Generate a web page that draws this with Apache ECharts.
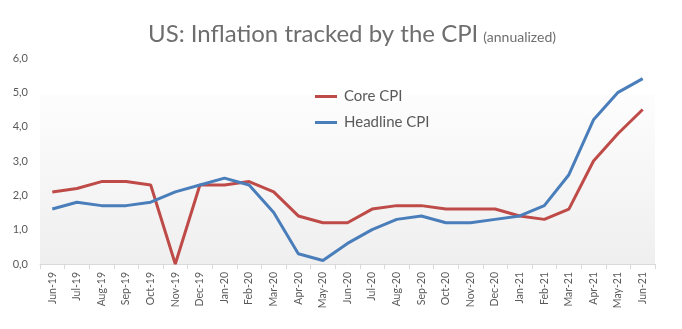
<!DOCTYPE html>
<html>
<head>
<meta charset="utf-8">
<script src="https://cdn.jsdelivr.net/npm/echarts@6/dist/echarts.min.js"></script>
<style>
  html, body { margin: 0; padding: 0; background: #ffffff; }
  #chart { width: 682px; height: 329px; }
</style>
</head>
<body>
<div id="chart"></div>
<script>
// Monthly CPI readings, annualized (%)
const months = [
  'Jun-19', 'Jul-19', 'Aug-19', 'Sep-19', 'Oct-19', 'Nov-19', 'Dec-19',
  'Jan-20', 'Feb-20', 'Mar-20', 'Apr-20', 'May-20', 'Jun-20', 'Jul-20',
  'Aug-20', 'Sep-20', 'Oct-20', 'Nov-20', 'Dec-20', 'Jan-21', 'Feb-21',
  'Mar-21', 'Apr-21', 'May-21', 'Jun-21'
];
const coreCpi = [
  2.1, 2.2, 2.4, 2.4, 2.3, 0.0, 2.3, 2.3, 2.4, 2.1, 1.4, 1.2, 1.2, 1.6,
  1.7, 1.7, 1.6, 1.6, 1.6, 1.4, 1.3, 1.6, 3.0, 3.8, 4.5
];
const headlineCpi = [
  1.6, 1.8, 1.7, 1.7, 1.8, 2.1, 2.3, 2.5, 2.3, 1.5, 0.3, 0.1, 0.6, 1.0,
  1.3, 1.4, 1.2, 1.2, 1.3, 1.4, 1.7, 2.6, 4.2, 5.0, 5.4
];
const yTicks = { min: 0, max: 6, step: 1 };

const FONT = 'Lato, "Open Sans", sans-serif';
const GREY = '#595959';

const chart = echarts.init(document.getElementById('chart'), null, { renderer: 'canvas' });

chart.setOption({
  animation: false,
  backgroundColor: '#ffffff',
  title: {
    left: 143,
    top: 17,
    text: '{main|US: Inflation tracked by the CPI} {sub|(annualized)}',
    textStyle: {
      fontWeight: 'normal',
      rich: {
        main: { fontFamily: FONT, fontSize: 24, fontWeight: 'normal', color: '#6e6e6e', verticalAlign: 'bottom' },
        sub: { fontFamily: FONT, fontSize: 14, fontWeight: 'normal', color: '#6e6e6e', verticalAlign: 'bottom', padding: [0, 0, 2, 0] }
      }
    }
  },
  legend: {
    orient: 'vertical',
    left: 310,
    top: 84,
    itemWidth: 22,
    itemHeight: 3,
    itemGap: 11,
    icon: 'rect',
    textStyle: { fontFamily: FONT, fontSize: 15, color: GREY, lineHeight: 14, padding: [0, 0, 0, 2] },
    data: ['Core CPI', 'Headline CPI']
  },
  grid: {
    left: 40,
    right: 27,
    top: 58,
    bottom: 65,
    show: true,
    borderWidth: 0,
    backgroundColor: {
      type: 'linear', x: 0, y: 0, x2: 0, y2: 1,
      colorStops: [
        { offset: 0, color: '#ffffff' },
        { offset: 0.18, color: '#ffffff' },
        { offset: 0.18, color: '#fdfdfd' },
        { offset: 1, color: '#efefef' }
      ]
    }
  },
  xAxis: {
    type: 'category',
    data: months,
    boundaryGap: true,
    axisLine: { lineStyle: { color: '#d9d9d9', width: 1 } },
    axisTick: { show: true, length: 5, lineStyle: { color: '#d9d9d9' } },
    axisLabel: {
      rotate: 90,
      interval: 0,
      margin: 8,
      fontFamily: FONT,
      fontSize: 10.5,
      color: GREY
    }
  },
  yAxis: {
    type: 'value',
    min: yTicks.min,
    max: yTicks.max,
    interval: yTicks.step,
    axisLine: { show: false },
    axisTick: { show: false },
    splitLine: { show: false },
    axisLabel: {
      margin: 12,
      fontFamily: FONT,
      fontSize: 11,
      color: GREY,
      formatter: v => v.toFixed(1).replace('.', ',')
    }
  },
  series: [
    {
      name: 'Core CPI',
      type: 'line',
      data: coreCpi,
      showSymbol: false,
      symbol: 'none',
      lineStyle: { color: '#be4b48', width: 3 },
      itemStyle: { color: '#be4b48' },
      z: 2
    },
    {
      name: 'Headline CPI',
      type: 'line',
      data: headlineCpi,
      showSymbol: false,
      symbol: 'none',
      lineStyle: { color: '#4a7ebb', width: 3 },
      itemStyle: { color: '#4a7ebb' },
      z: 3
    }
  ]
});
</script>
</body>
</html>
